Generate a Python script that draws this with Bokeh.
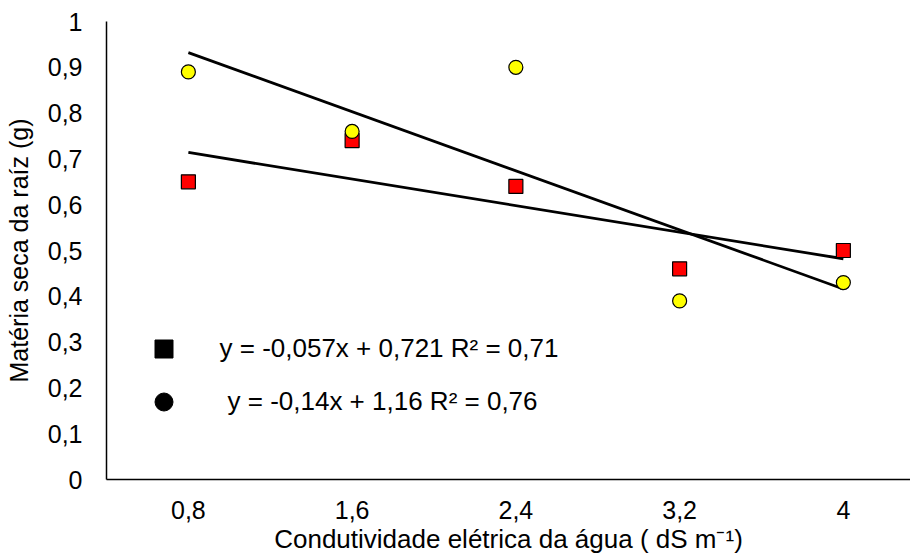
import numpy as np
from bokeh.plotting import figure
from bokeh.models import (FixedTicker, CustomJSTickFormatter, Legend, LegendItem,
                          ColumnDataSource, Range1d)
from bokeh.embed import file_html
from bokeh.resources import INLINE

# ---- data ----
x_labels = ["0,8", "1,6", "2,4", "3,2", "4"]
x_pos = [1, 2, 3, 4, 5]
red_values = [0.65, 0.74, 0.64, 0.46, 0.50]
yellow_values = [0.89, 0.76, 0.90, 0.39, 0.43]
eq_red = "y = -0,057x + 0,721 R² = 0,71"
eq_yellow = "y = -0,14x + 1,16 R² = 0,76"
x_title = "Condutividade elétrica da água ( dS m⁻¹)"
y_title = "Matéria seca da raíz (g)"
y_ticks = [0, 0.1, 0.2, 0.3, 0.4, 0.5, 0.6, 0.7, 0.8, 0.9, 1]

FONT = "Liberation Sans"

p = figure(width=910, height=559, output_backend="svg", toolbar_location=None,
           x_range=Range1d(0.5, 5.41), y_range=Range1d(0, 1),
           min_border_left=106, min_border_right=0, min_border_top=21,
           min_border_bottom=80)
p.background_fill_color = "white"
p.border_fill_color = "white"
p.outline_line_color = None
p.xgrid.visible = False
p.ygrid.visible = False

# axes
p.xaxis.ticker = FixedTicker(ticks=x_pos)
p.xaxis.major_label_overrides = {k: v for k, v in zip(x_pos, x_labels)}
p.yaxis.ticker = FixedTicker(ticks=y_ticks)
p.yaxis.formatter = CustomJSTickFormatter(code="""
    if (Math.abs(tick) < 1e-9) return '0';
    if (Math.abs(tick - 1) < 1e-9) return '1';
    return tick.toFixed(1).replace('.', ',');
""")
for ax in (p.xaxis, p.yaxis):
    ax.major_tick_out = 0
    ax.major_tick_in = 0
    ax.minor_tick_out = 0
    ax.minor_tick_in = 0
    ax.axis_line_color = "black"
    ax.axis_line_width = 1.5
    ax.major_label_text_font = FONT
    ax.major_label_text_font_size = "25px"
    ax.major_label_text_color = "black"
    ax.axis_label_text_font = FONT
    ax.axis_label_text_font_size = "25px"
    ax.axis_label_text_font_style = "normal"
    ax.axis_label_text_color = "black"

p.xaxis.axis_label = x_title
p.xaxis.axis_label_text_font_size = "26px"
p.xaxis.axis_label_text_baseline = "middle"
p.yaxis.axis_label = y_title
p.xaxis.major_label_standoff = 21
p.xaxis.axis_label_standoff = 2
p.yaxis.major_label_standoff = 24
p.yaxis.axis_label_standoff = 12

# trend lines (least squares fits of each series)
xs = np.array(x_pos, dtype=float)
for vals in (yellow_values, red_values):
    m, b = np.polyfit(xs, np.array(vals), 1)
    p.line(x=[xs[0], xs[-1]], y=[m * xs[0] + b, m * xs[-1] + b],
           line_color="black", line_width=2.8)

# data points
src_r = ColumnDataSource(dict(x=x_pos, y=red_values))
src_y = ColumnDataSource(dict(x=x_pos, y=yellow_values))
p.scatter("x", "y", source=src_r, marker="square", size=14,
          fill_color="#ff0000", line_color="black", line_width=1.2)
p.scatter("x", "y", source=src_y, marker="circle", size=14,
          fill_color="#ffff00", line_color="black", line_width=1.2)

# equation legends (legend-only glyphs, no visible data)
sq = p.scatter(x=[np.nan], y=[np.nan], marker="square", fill_color="black",
               line_color="black")
ci = p.scatter(x=[np.nan], y=[np.nan], marker="circle", fill_color="black",
               line_color="black")


def make_legend(label, rend, loc, standoff):
    return Legend(items=[LegendItem(label=label, renderers=[rend], index=0)],
                  location=loc, padding=0, margin=0, spacing=0,
                  border_line_alpha=0, background_fill_alpha=0,
                  glyph_width=45, glyph_height=45,
                  label_standoff=standoff, label_text_font=FONT,
                  label_text_font_size="26px", label_text_color="black",
                  label_text_baseline="middle")


p.add_layout(make_legend(eq_red, sq, (34.5, 108.5), 34))
p.add_layout(make_legend(eq_yellow, ci, (34.5, 55.5), 42))

open("out.html", "w").write(file_html(p, INLINE))
